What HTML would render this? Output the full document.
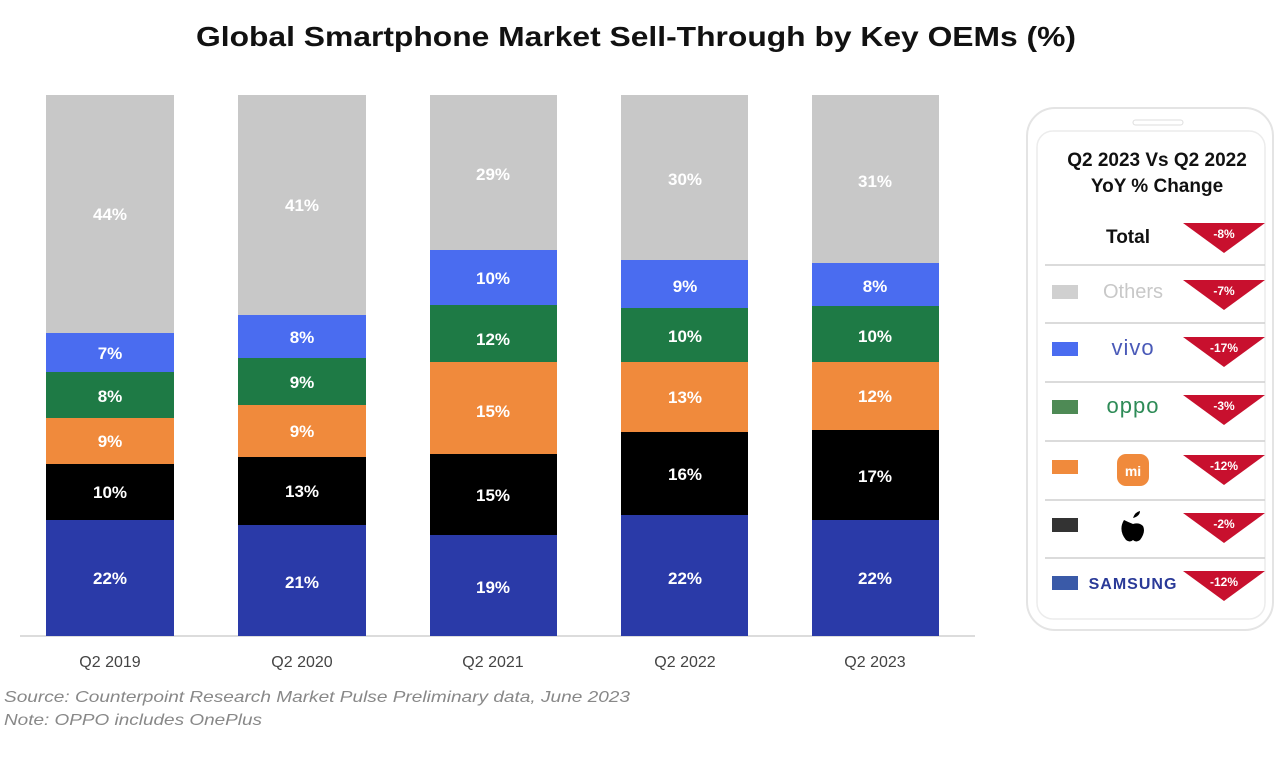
<!DOCTYPE html>
<html><head><meta charset="utf-8"><style>
body{margin:0;background:#fff;}
svg{display:block;font-family:"Liberation Sans",Arial,sans-serif;}
</style></head><body>
<svg width="1280" height="758" viewBox="0 0 1280 758">
<rect width="1280" height="758" fill="#fff"/>
<text x="196" y="46" font-size="28" font-weight="bold" fill="#111" textLength="880" lengthAdjust="spacingAndGlyphs">Global Smartphone Market Sell-Through by Key OEMs (%)</text>
<line x1="20" y1="636" x2="975" y2="636" stroke="#d0d0d0" stroke-width="1.5"/>
<g font-size="17" font-weight="bold" fill="#fff" text-anchor="middle">
<rect x="46" y="95" width="128" height="238" fill="#c8c8c8"/>
<rect x="46" y="333" width="128" height="39" fill="#4a6cf0"/>
<rect x="46" y="372" width="128" height="46" fill="#1e7a45"/>
<rect x="46" y="418" width="128" height="46" fill="#f08a3c"/>
<rect x="46" y="464" width="128" height="56" fill="#000"/>
<rect x="46" y="520" width="128" height="116" fill="#2a3aa8"/>
<text x="110" y="220">44%</text><text x="110" y="359">7%</text><text x="110" y="402">8%</text><text x="110" y="447">9%</text><text x="110" y="498">10%</text><text x="110" y="584">22%</text>
<rect x="238" y="95" width="128" height="220" fill="#c8c8c8"/>
<rect x="238" y="315" width="128" height="43" fill="#4a6cf0"/>
<rect x="238" y="358" width="128" height="47" fill="#1e7a45"/>
<rect x="238" y="405" width="128" height="52" fill="#f08a3c"/>
<rect x="238" y="457" width="128" height="68" fill="#000"/>
<rect x="238" y="525" width="128" height="111" fill="#2a3aa8"/>
<text x="302" y="211">41%</text><text x="302" y="343">8%</text><text x="302" y="388">9%</text><text x="302" y="437">9%</text><text x="302" y="497">13%</text><text x="302" y="588">21%</text>
<rect x="430" y="95" width="127" height="155" fill="#c8c8c8"/>
<rect x="430" y="250" width="127" height="55" fill="#4a6cf0"/>
<rect x="430" y="305" width="127" height="57" fill="#1e7a45"/>
<rect x="430" y="362" width="127" height="92" fill="#f08a3c"/>
<rect x="430" y="454" width="127" height="81" fill="#000"/>
<rect x="430" y="535" width="127" height="101" fill="#2a3aa8"/>
<text x="493" y="180">29%</text><text x="493" y="284">10%</text><text x="493" y="345">12%</text><text x="493" y="417">15%</text><text x="493" y="501">15%</text><text x="493" y="593">19%</text>
<rect x="621" y="95" width="127" height="165" fill="#c8c8c8"/>
<rect x="621" y="260" width="127" height="48" fill="#4a6cf0"/>
<rect x="621" y="308" width="127" height="54" fill="#1e7a45"/>
<rect x="621" y="362" width="127" height="70" fill="#f08a3c"/>
<rect x="621" y="432" width="127" height="83" fill="#000"/>
<rect x="621" y="515" width="127" height="121" fill="#2a3aa8"/>
<text x="685" y="185">30%</text><text x="685" y="292">9%</text><text x="685" y="342">10%</text><text x="685" y="403">13%</text><text x="685" y="480">16%</text><text x="685" y="584">22%</text>
<rect x="812" y="95" width="127" height="168" fill="#c8c8c8"/>
<rect x="812" y="263" width="127" height="43" fill="#4a6cf0"/>
<rect x="812" y="306" width="127" height="56" fill="#1e7a45"/>
<rect x="812" y="362" width="127" height="68" fill="#f08a3c"/>
<rect x="812" y="430" width="127" height="90" fill="#000"/>
<rect x="812" y="520" width="127" height="116" fill="#2a3aa8"/>
<text x="875" y="187">31%</text><text x="875" y="292">8%</text><text x="875" y="342">10%</text><text x="875" y="402">12%</text><text x="875" y="482">17%</text><text x="875" y="584">22%</text>
</g>
<g font-size="16" fill="#444" text-anchor="middle">
<text x="110" y="667">Q2 2019</text><text x="302" y="667">Q2 2020</text><text x="493" y="667">Q2 2021</text><text x="685" y="667">Q2 2022</text><text x="875" y="667">Q2 2023</text>
</g>
<g font-size="16" font-style="italic" fill="#888">
<text x="4" y="702" textLength="626" lengthAdjust="spacingAndGlyphs">Source: Counterpoint Research Market Pulse Preliminary data, June 2023</text>
<text x="4" y="725" textLength="258" lengthAdjust="spacingAndGlyphs">Note: OPPO includes OnePlus</text>
</g>
<rect x="1027" y="108" width="246" height="522" rx="28" fill="#fff" stroke="#e4e4e4" stroke-width="2"/>
<rect x="1037" y="131" width="228" height="488" rx="16" fill="#fff" stroke="#ececec" stroke-width="1.5"/>
<rect x="1133" y="120" width="50" height="5" rx="2.5" fill="none" stroke="#ddd"/>
<g font-weight="bold" font-size="19" fill="#111" text-anchor="middle">
<text x="1157" y="166">Q2 2023 Vs Q2 2022</text>
<text x="1157" y="192">YoY % Change</text>
<text x="1128" y="243">Total</text>
</g>
<text x="1133" y="298" font-size="20" fill="#c8c8c8" text-anchor="middle">Others</text>
<text x="1133" y="355" font-size="22" fill="#4a5ab8" text-anchor="middle" letter-spacing="1">vivo</text>
<text x="1133" y="413" font-size="22" fill="#2e8b57" text-anchor="middle" letter-spacing="1">oppo</text>
<rect x="1117" y="454" width="32" height="32" rx="9" fill="#f08a3c"/>
<text x="1133" y="476" font-size="14" font-weight="bold" fill="#fff" text-anchor="middle">mi</text>
<path d="M1124 520 q-6 10 2 20 q4 3 7 0 q3 3 7 0 q6-8 3-14 q-4-4-10-2 q-5-2-9-4z M1133 518 q2-6 7-7 q0 5-7 7z" fill="#000"/>
<text x="1133" y="589" font-size="16" font-weight="bold" fill="#2a3a98" text-anchor="middle" letter-spacing="1">SAMSUNG</text>
<g stroke="#cfcfcf" stroke-width="1.5">
<line x1="1045" y1="265" x2="1265" y2="265"/><line x1="1045" y1="323" x2="1265" y2="323"/><line x1="1045" y1="382" x2="1265" y2="382"/><line x1="1045" y1="441" x2="1265" y2="441"/><line x1="1045" y1="500" x2="1265" y2="500"/><line x1="1045" y1="558" x2="1265" y2="558"/>
</g>
<g>
<rect x="1052" y="285" width="26" height="14" fill="#d0d0d0"/>
<rect x="1052" y="342" width="26" height="14" fill="#4a6cf0"/>
<rect x="1052" y="400" width="26" height="14" fill="#4e8a55"/>
<rect x="1052" y="460" width="26" height="14" fill="#f08a3c"/>
<rect x="1052" y="518" width="26" height="14" fill="#333"/>
<rect x="1052" y="576" width="26" height="14" fill="#3a5aa8"/>
</g>
<g fill="#c8102e">
<polygon points="1183,223 1265,223 1224,253"/>
<polygon points="1183,280 1265,280 1224,310"/>
<polygon points="1183,337 1265,337 1224,367"/>
<polygon points="1183,395 1265,395 1224,425"/>
<polygon points="1183,455 1265,455 1224,485"/>
<polygon points="1183,513 1265,513 1224,543"/>
<polygon points="1183,571 1265,571 1224,601"/>
</g>
<g font-size="12" fill="#fff" text-anchor="middle" font-weight="bold">
<text x="1224" y="238">-8%</text><text x="1224" y="295">-7%</text><text x="1224" y="352">-17%</text><text x="1224" y="410">-3%</text><text x="1224" y="470">-12%</text><text x="1224" y="528">-2%</text><text x="1224" y="586">-12%</text>
</g>
</svg>
</body></html>
